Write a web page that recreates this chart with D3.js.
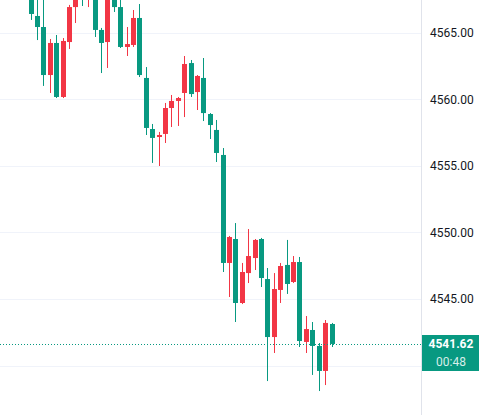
<!DOCTYPE html>
<html>
<head>
<meta charset="utf-8">
<script src="https://cdn.jsdelivr.net/npm/d3@7"></script>
<style>
  html, body { margin: 0; padding: 0; background: #fff; }
  svg { display: block; font-family: Roboto, "Liberation Sans", sans-serif; }
</style>
</head>
<body>
<div id="chart"></div>
<script>
// OHLC values (red = up, green = down)
const opens  = [4567.86, 4566.28, 4565.45, 4561.84, 4564.25, 4560.19, 4564.32, 4566.95, 4568.98, 4567.78,
                4567.93, 4565.23, 4564.32, 4567.71, 4566.95, 4563.95, 4564.10, 4566.13, 4561.62, 4557.78,
                4557.18, 4557.41, 4559.36, 4559.89, 4560.49, 4562.74, 4560.56, 4561.62, 4558.91, 4557.71,
                4555.83, 4547.71, 4549.51, 4544.70, 4546.95, 4548.08, 4549.51, 4546.50, 4542.14, 4545.68,
                4547.56, 4546.28, 4547.78, 4541.77, 4542.67, 4541.47, 4539.59, 4543.12];
const highs  = [4568.08, 4567.48, 4567.63, 4564.55, 4564.85, 4564.62, 4567.11, 4567.93, 4569.36, 4569.14,
                4568.23, 4565.38, 4567.93, 4568.08, 4567.48, 4565.45, 4566.73, 4567.18, 4562.44, 4558.16,
                4557.56, 4559.74, 4560.34, 4560.19, 4563.27, 4562.97, 4561.84, 4563.12, 4558.98, 4558.46,
                4556.35, 4549.74, 4550.71, 4547.71, 4550.26, 4549.51, 4549.59, 4547.33, 4546.95, 4547.71,
                4549.44, 4548.23, 4548.16, 4543.72, 4543.27, 4541.69, 4543.42, 4543.20];
const lows   = [4565.98, 4564.47, 4561.02, 4560.49, 4560.11, 4560.11, 4563.80, 4565.75, 4567.03, 4566.95,
                4564.70, 4561.99, 4562.37, 4566.58, 4563.87, 4563.27, 4563.95, 4561.69, 4557.33, 4555.23,
                4555.00, 4556.73, 4557.93, 4558.01, 4558.68, 4560.19, 4559.21, 4558.38, 4557.03, 4555.30,
                4547.03, 4545.15, 4543.27, 4544.62, 4546.20, 4547.18, 4545.90, 4538.83, 4540.94, 4544.70,
                4545.38, 4546.20, 4541.39, 4540.94, 4539.29, 4538.08, 4538.53, 4541.39];
const closes = [4566.43, 4565.45, 4561.84, 4564.25, 4560.19, 4564.40, 4566.95, 4567.71, 4567.86, 4568.83,
                4565.23, 4564.25, 4567.71, 4566.95, 4563.95, 4564.17, 4566.13, 4561.84, 4557.86, 4557.11,
                4557.33, 4559.36, 4559.89, 4560.11, 4562.67, 4560.41, 4561.77, 4558.98, 4558.08, 4555.98,
                4547.71, 4549.66, 4544.70, 4547.03, 4548.23, 4549.44, 4546.58, 4542.14, 4545.75, 4547.48,
                4546.13, 4547.78, 4541.84, 4542.74, 4541.47, 4539.59, 4543.20, 4541.62];

const priceTicks = [4545, 4550, 4555, 4560, 4565];
const gridValues = [4540, 4545, 4550, 4555, 4560, 4565];
const lastPrice = 4541.62;
const countdown = "00:48";

const width = 479;
const height = 415;
const plotRight = 421;

const upColor = "#f23645";
const downColor = "#089981";

const candles = opens.map((o, i) => ({ i, open: o, high: highs[i], low: lows[i], close: closes[i] }));

const x = d3.scaleLinear()
    .domain([0, candles.length - 1])
    .range([30.5, 331.5]);

const y = d3.scaleLinear()
    .domain([4540, 4565])
    .range([365.5, 33]);

const svg = d3.select("#chart")
    .append("svg")
    .attr("width", width)
    .attr("height", height);

svg.append("defs").append("clipPath")
    .attr("id", "plot-clip")
    .append("rect")
    .attr("x", 0).attr("y", 0)
    .attr("width", plotRight).attr("height", height);

// horizontal grid
svg.append("g")
    .selectAll("line")
    .data(gridValues)
    .join("line")
    .attr("x1", 0)
    .attr("x2", plotRight)
    .attr("y1", d => Math.round(y(d)) + 0.5)
    .attr("y2", d => Math.round(y(d)) + 0.5)
    .attr("stroke", "#f0f3fa")
    .attr("stroke-width", 1);

const plot = svg.append("g").attr("clip-path", "url(#plot-clip)");

// candles
const candle = plot.selectAll(".candle")
    .data(candles)
    .join("g")
    .attr("class", "candle")
    .attr("fill", d => d.close >= d.open ? upColor : downColor)
    .attr("stroke", d => d.close >= d.open ? upColor : downColor);

candle.append("line")
    .attr("x1", d => Math.round(x(d.i)) + 0.5)
    .attr("x2", d => Math.round(x(d.i)) + 0.5)
    .attr("y1", d => y(d.high))
    .attr("y2", d => y(d.low))
    .attr("stroke-width", 1);

candle.append("rect")
    .attr("stroke", "none")
    .attr("x", d => Math.round(x(d.i)) - 2)
    .attr("width", 5)
    .attr("y", d => y(Math.max(d.open, d.close)))
    .attr("height", d => Math.max(1.5, Math.abs(y(d.open) - y(d.close))));

// last price dotted line
svg.append("line")
    .attr("x1", 0)
    .attr("x2", plotRight)
    .attr("y1", Math.round(y(lastPrice)) + 0.5)
    .attr("y2", Math.round(y(lastPrice)) + 0.5)
    .attr("stroke", downColor)
    .attr("stroke-width", 1)
    .attr("stroke-dasharray", "1,2");

// right price axis
svg.append("line")
    .attr("x1", plotRight + 0.5)
    .attr("x2", plotRight + 0.5)
    .attr("y1", 0)
    .attr("y2", height)
    .attr("stroke", "#e0e3eb");

const axis = svg.append("g")
    .attr("transform", `translate(${plotRight},0)`)
    .call(d3.axisRight(y).tickValues(priceTicks).tickSize(0).tickPadding(9).tickFormat(d3.format(".2f")));

axis.select(".domain").remove();
axis.selectAll("text")
    .attr("fill", "#131722")
    .style("font-size", "12px")
    .style("font-family", "Roboto, 'Liberation Sans', sans-serif");

// last price label
const labelY = y(lastPrice);
const label = svg.append("g");
label.append("rect")
    .attr("x", plotRight + 1)
    .attr("y", Math.round(labelY) - 9)
    .attr("width", width - plotRight - 1)
    .attr("height", 36)
    .attr("fill", downColor);

label.append("text")
    .attr("x", 451)
    .attr("y", labelY + 4.5)
    .attr("text-anchor", "middle")
    .attr("fill", "#fff")
    .style("font-size", "12px")
    .style("font-weight", "bold")
    .text(d3.format(".2f")(lastPrice));

label.append("text")
    .attr("x", 451)
    .attr("y", labelY + 22)
    .attr("text-anchor", "middle")
    .attr("fill", "#fff")
    .attr("fill-opacity", 0.85)
    .style("font-size", "12px")
    .text(countdown);
</script>
</body>
</html>
